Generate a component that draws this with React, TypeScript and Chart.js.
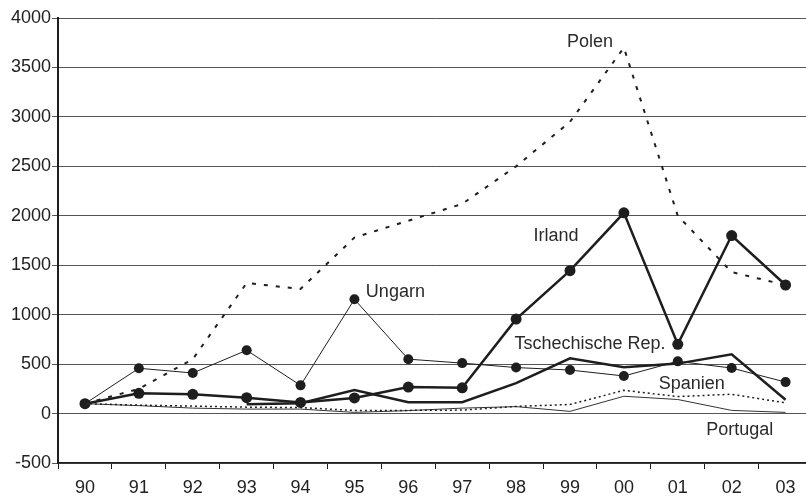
import React, { useEffect, useRef } from "react";
import { Chart, registerables } from "chart.js";

Chart.register(...registerables);

const categories = ["90", "91", "92", "93", "94", "95", "96", "97", "98", "99", "00", "01", "02", "03"];

const polen = [100, 250, 550, 1320, 1260, 1780, 1950, 2120, 2500, 2950, 3700, 2000, 1430, 1300];
const irland = [100, 205, 195, 160, 112, 158, 268, 260, 955, 1445, 2030, 700, 1800, 1300];
const ungarn = [100, 458, 410, 640, 285, 1155, 550, 510, 465, 440, 380, 528, 460, 318];
const tschechien = [null, null, null, 95, 105, 238, 115, 115, 308, 558, 468, 505, 600, 140];
const spanien = [100, 85, 75, 65, 60, 32, 32, 35, 72, 92, 235, 172, 195, 108];
const portugal = [100, 80, 55, 45, 45, 12, 30, 55, 70, 22, 175, 142, 32, 12];

const yMin = -500;
const yMax = 4000;
const yStep = 500;

const labelTexts = ["Polen", "Irland", "Ungarn", "Tschechische Rep.", "Spanien", "Portugal"];
const labelCat = [9.37, 8.74, 5.76, 9.37, 11.26, 12.15];
const labelVal = [3752, 1800, 1224, 708, 303, -162];

const FONT = "'Liberation Sans', Arial, sans-serif";
const INK = "#1e1e1e";

const labelPlugin = {
  id: "seriesLabels",
  afterDatasetsDraw(chart: any) {
    const { ctx, scales } = chart;
    ctx.save();
    ctx.font = `18px ${FONT}`;
    ctx.fillStyle = "#2a2a2a";
    ctx.textAlign = "center";
    ctx.textBaseline = "middle";
    labelTexts.forEach((t, i) => {
      const x = scales.x.getPixelForValue(labelCat[i]);
      const y = scales.y.getPixelForValue(labelVal[i]);
      ctx.fillText(t, x, y);
    });
    ctx.restore();
  },
};

export default function App() {
  const ref = useRef<HTMLCanvasElement | null>(null);

  useEffect(() => {
    if (!ref.current) return;
    const chart = new Chart(ref.current, {
      type: "line",
      data: {
        labels: categories,
        datasets: [
          {
            label: "Spanien",
            data: spanien,
            borderColor: INK,
            borderWidth: 1.5,
            borderDash: [2, 3],
            pointRadius: 0,
            fill: false,
          },
          {
            label: "Portugal",
            data: portugal,
            borderColor: "#333",
            borderWidth: 1,
            pointRadius: 0,
            fill: false,
          },
          {
            label: "Tschechische Rep.",
            data: tschechien,
            borderColor: INK,
            borderWidth: 2.5,
            pointRadius: 0,
            fill: false,
            spanGaps: false,
          },
          {
            label: "Ungarn",
            data: ungarn,
            borderColor: INK,
            borderWidth: 1,
            pointRadius: 5,
            pointBackgroundColor: INK,
            pointBorderColor: INK,
            pointBorderWidth: 0,
            fill: false,
          },
          {
            label: "Polen",
            data: polen,
            borderColor: INK,
            borderWidth: 2,
            borderDash: [4, 8],
            pointRadius: 0,
            fill: false,
          },
          {
            label: "Irland",
            data: irland,
            borderColor: INK,
            borderWidth: 2.5,
            pointRadius: 5.5,
            pointBackgroundColor: INK,
            pointBorderColor: INK,
            pointBorderWidth: 0,
            fill: false,
          },
        ],
      },
      options: {
        responsive: false,
        animation: false,
        layout: { padding: { top: 18, left: 10, right: 3, bottom: 0 } },
        plugins: {
          legend: { display: false },
          tooltip: { enabled: false },
        },
        elements: { line: { tension: 0 } },
        scales: {
          x: {
            offset: true,
            grid: {
              offset: true,
              drawOnChartArea: false,
              drawTicks: true,
              tickLength: 6,
              color: INK,
              lineWidth: 1,
            },
            border: { display: true, color: INK, width: 1.5 },
            ticks: {
              color: "#222",
              padding: 10,
              font: { family: FONT, size: 18, lineHeight: 1 },
              maxRotation: 0,
              autoSkip: false,
            },
          },
          y: {
            min: yMin,
            max: yMax,
            grid: {
              color: "#555",
              lineWidth: 1,
              tickLength: 6,
            },
            border: { display: true, color: INK, width: 2 },
            ticks: {
              stepSize: yStep,
              color: "#222",
              padding: 1,
              font: { family: FONT, size: 18, lineHeight: 1 },
              callback: (v: any) => String(v),
            },
          },
        },
      },
      plugins: [labelPlugin],
    });
    return () => chart.destroy();
  }, []);

  return (
    <div
      style={{
        position: "absolute",
        left: 0,
        top: 0,
        width: 806,
        height: 496,
        overflow: "hidden",
        background: "#fff",
      }}
    >
      <canvas ref={ref} width={818} height={507} style={{ display: "block" }} />
    </div>
  );
}
